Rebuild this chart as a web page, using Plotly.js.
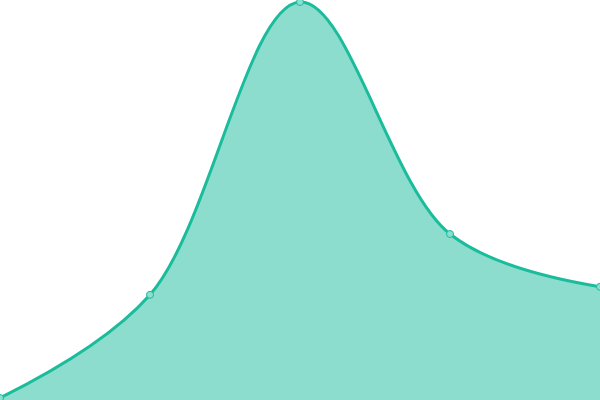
<!DOCTYPE html>
<html>
<head>
<meta charset="utf-8">
<script src="https://cdn.plot.ly/plotly-3.0.1.min.js"></script>
<style>html,body{margin:0;padding:0;background:#fff;}#chart{width:600px;height:400px;}</style>
</head>
<body>
<div id="chart"></div>
<script>
var xValues = [0, 1, 2, 3, 4];
var yValues = [0.5, 26.3, 99.5, 41.5, 28.3];

var trace = {
    x: xValues,
    y: yValues,
    type: 'scatter',
    mode: 'lines+markers',
    fill: 'tozeroy',
    fillcolor: 'rgba(26,188,156,0.5)',
    line: { color: '#1abc9c', width: 3, shape: 'spline', smoothing: 1 },
    marker: { size: 7, color: '#8ae0cf', line: { color: '#1abc9c', width: 1 } },
    hoverinfo: 'x+y'
};

Plotly.newPlot('chart', [trace], {
    width: 600, height: 400,
    paper_bgcolor: '#ffffff', plot_bgcolor: '#ffffff',
    margin: { t: 0, r: 0, b: 0, l: 0 },
    showlegend: false,
    xaxis: { range: [0, 4], visible: false, fixedrange: true },
    yaxis: { range: [0, 100], visible: false, fixedrange: true }
}, { displayModeBar: false, staticPlot: true });
</script>
</body>
</html>
